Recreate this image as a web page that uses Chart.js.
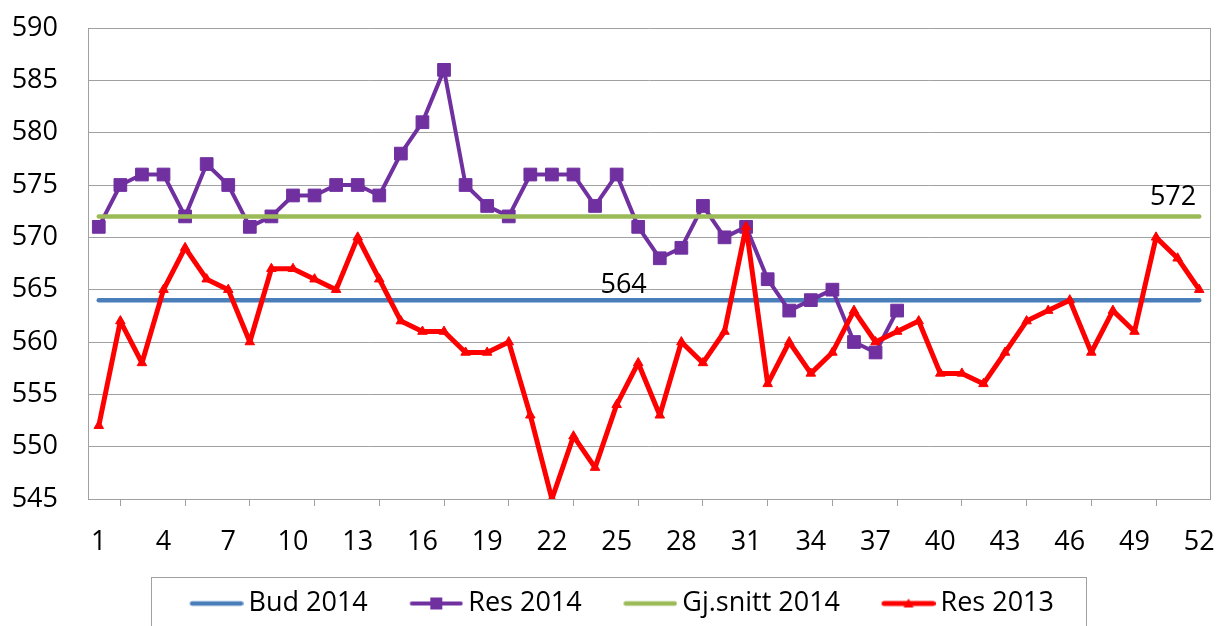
<!DOCTYPE html>
<html>
<head>
<meta charset="utf-8">
<script src="https://cdn.jsdelivr.net/npm/chart.js@4.4.1/dist/chart.umd.min.js"></script>
<style>
  html, body { margin: 0; padding: 0; background: #fff; }
  #wrap { width: 1220px; height: 626px; }
</style>
</head>
<body>
<div id="wrap"><canvas id="chart"></canvas></div>
<script>
const weeks = ['1', '2', '3', '4', '5', '6', '7', '8', '9', '10', '11', '12', '13', '14', '15', '16', '17', '18', '19', '20',
  '21', '22', '23', '24', '25', '26', '27', '28', '29', '30', '31', '32', '33', '34', '35', '36', '37', '38', '39', '40',
  '41', '42', '43', '44', '45', '46', '47', '48', '49', '50', '51', '52'];

const bud2014 = [564, 564, 564, 564, 564, 564, 564, 564, 564, 564, 564, 564, 564, 564, 564, 564, 564, 564, 564, 564,
  564, 564, 564, 564, 564, 564, 564, 564, 564, 564, 564, 564, 564, 564, 564, 564, 564, 564, 564, 564,
  564, 564, 564, 564, 564, 564, 564, 564, 564, 564, 564, 564];

const res2014 = [571, 575, 576, 576, 572, 577, 575, 571, 572, 574, 574, 575, 575, 574, 578, 581, 586, 575, 573, 572,
  576, 576, 576, 573, 576, 571, 568, 569, 573, 570, 571, 566, 563, 564, 565, 560, 559, 563];

const snitt2014 = [572, 572, 572, 572, 572, 572, 572, 572, 572, 572, 572, 572, 572, 572, 572, 572, 572, 572, 572, 572,
  572, 572, 572, 572, 572, 572, 572, 572, 572, 572, 572, 572, 572, 572, 572, 572, 572, 572, 572, 572,
  572, 572, 572, 572, 572, 572, 572, 572, 572, 572, 572, 572];

const res2013 = [552, 562, 558, 565, 569, 566, 565, 560, 567, 567, 566, 565, 570, 566, 562, 561, 561, 559, 559, 560,
  553, 545, 551, 548, 554, 558, 553, 560, 558, 561, 571, 556, 560, 557, 559, 563, 560, 561, 562, 557,
  557, 556, 559, 562, 563, 564, 559, 563, 561, 570, 568, 565];

const yTicks = [545, 550, 555, 560, 565, 570, 575, 580, 585, 590];

const FONT = "'Open Sans', 'Noto Sans', sans-serif";
const GRID = '#a0a0a0';
const BLUE = '#4a7ebb';
const PURPLE = '#7030a0';
const GREEN = '#9bbb59';
const RED = '#ff0000';

// line+marker pictures for the legend; the empty left part keeps the gap to the text small
function legendIcon(color, width, marker) {
  const c = document.createElement('canvas');
  c.width = 71;
  c.height = 16;
  const g = c.getContext('2d');
  g.strokeStyle = color;
  g.fillStyle = color;
  g.lineWidth = width;
  g.lineCap = 'round';
  g.beginPath();
  g.moveTo(19.5, 8);
  g.lineTo(68.5, 8);
  g.stroke();
  if (marker === 'rect') g.fillRect(38, 2, 12, 12);
  if (marker === 'triangle') {
    g.beginPath();
    g.moveTo(44, 3);
    g.lineTo(49, 12);
    g.lineTo(39, 12);
    g.closePath();
    g.fill();
  }
  return c;
}

const icons = [
  legendIcon(BLUE, 4.5),
  legendIcon(PURPLE, 4, 'rect'),
  legendIcon(GREEN, 4.5),
  legendIcon(RED, 5, 'triangle'),
];

const plotFrame = {
  id: 'plotFrame',
  afterLayout(chart) {
    chart.legend.left += 11;
    chart.legend.right += 11;
  },
  afterDraw(chart) {
    const { ctx, chartArea } = chart;
    ctx.save();
    ctx.strokeStyle = GRID;
    ctx.lineWidth = 1;
    ctx.beginPath();
    ctx.moveTo(Math.round(chartArea.right) + 0.5, chartArea.top);
    ctx.lineTo(Math.round(chartArea.right) + 0.5, chartArea.bottom);
    ctx.stroke();
    const boxes = chart.legend.legendHitBoxes;
    if (boxes && boxes.length) {
      const first = boxes[0];
      const last = boxes[boxes.length - 1];
      const l = Math.round(first.left - 30.5) + 0.5;
      const r = Math.round(last.left + last.width + 32) + 0.5;
      const t = Math.round(first.top - 13) + 0.5;
      ctx.strokeRect(l, t, r - l, 80);
    }
    ctx.restore();
  },
};

const valueLabels = {
  id: 'valueLabels',
  afterDatasetsDraw(chart) {
    const { ctx } = chart;
    ctx.save();
    ctx.font = '27px ' + FONT;
    ctx.fillStyle = '#000';
    ctx.textBaseline = 'middle';
    const bud = chart.getDatasetMeta(0).data[24];
    ctx.textAlign = 'center';
    ctx.fillText(String(bud2014[24]), bud.x + 7, bud.y - 15);
    const avg = chart.getDatasetMeta(2).data[51];
    ctx.textAlign = 'right';
    ctx.fillText(String(snitt2014[51]), avg.x - 3, avg.y - 19);
    ctx.restore();
  },
};

new Chart(document.getElementById('chart'), {
  type: 'line',
  data: {
    labels: weeks,
    datasets: [
      { label: 'Bud 2014', data: bud2014, borderColor: BLUE, borderWidth: 4.5, pointRadius: 0, borderCapStyle: 'round', order: 4 },
      {
        label: 'Res 2014', data: res2014, borderColor: PURPLE, backgroundColor: PURPLE, borderWidth: 4,
        pointStyle: 'rect', pointRadius: 9, pointBorderWidth: 1, pointBackgroundColor: PURPLE, pointBorderColor: PURPLE, order: 3,
      },
      { label: 'Gj.snitt 2014', data: snitt2014, borderColor: GREEN, borderWidth: 4.5, pointRadius: 0, borderCapStyle: 'round', order: 2 },
      {
        label: 'Res 2013', data: res2013, borderColor: RED, backgroundColor: RED, borderWidth: 5,
        pointStyle: 'triangle', pointRadius: 5.5, pointBorderWidth: 1, pointBackgroundColor: RED, pointBorderColor: RED, order: 1,
      },
    ],
  },
  options: {
    responsive: true,
    maintainAspectRatio: false,
    animation: false,
    events: [],
    layout: { padding: { top: 28, right: 7, bottom: -1, left: 0 } },
    elements: { line: { tension: 0, borderJoinStyle: 'round' } },
    scales: {
      x: {
        offset: true,
        grid: {
          drawOnChartArea: false,
          drawTicks: true,
          tickLength: 7,
          tickWidth: 1,
          tickColor: (c) => (c.index % 3 === 1 ? GRID : 'rgba(0,0,0,0)'),
        },
        border: { display: true, color: GRID, width: 1 },
        ticks: {
          autoSkip: false,
          maxRotation: 0,
          padding: 20,
          color: '#000',
          font: { family: FONT, size: 27 },
          callback: (v, i) => (i % 3 === 0 ? weeks[i] : ''),
        },
        afterFit(scale) {
          scale.height = 58;
          scale.paddingLeft = 0;
          scale.paddingRight = 0;
        },
      },
      y: {
        min: yTicks[0],
        max: yTicks[yTicks.length - 1],
        afterBuildTicks(scale) {
          scale.ticks = yTicks.map((v) => ({ value: v }));
        },
        grid: { color: GRID, lineWidth: 1, drawTicks: false },
        border: { display: true, color: GRID, width: 1 },
        ticks: { padding: 30, color: '#000', font: { family: FONT, size: 27 } },
        afterFit(scale) {
          scale.width = 88;
          scale.paddingTop = 0;
          scale.paddingBottom = 0;
        },
      },
    },
    plugins: {
      tooltip: { enabled: false },
      legend: {
        position: 'bottom',
        labels: {
          usePointStyle: true,
          pointStyleWidth: 54,
          padding: 33,
          color: '#000',
          font: { family: FONT, size: 27 },
          generateLabels: (chart) => chart.data.datasets.map((ds, i) => ({
            text: ds.label,
            datasetIndex: i,
            pointStyle: icons[i],
            fillStyle: ds.borderColor,
            strokeStyle: ds.borderColor,
            lineWidth: 0,
            fontColor: '#000',
            hidden: false,
          })),
        },
      },
    },
  },
  plugins: [plotFrame, valueLabels],
});
</script>
</body>
</html>
